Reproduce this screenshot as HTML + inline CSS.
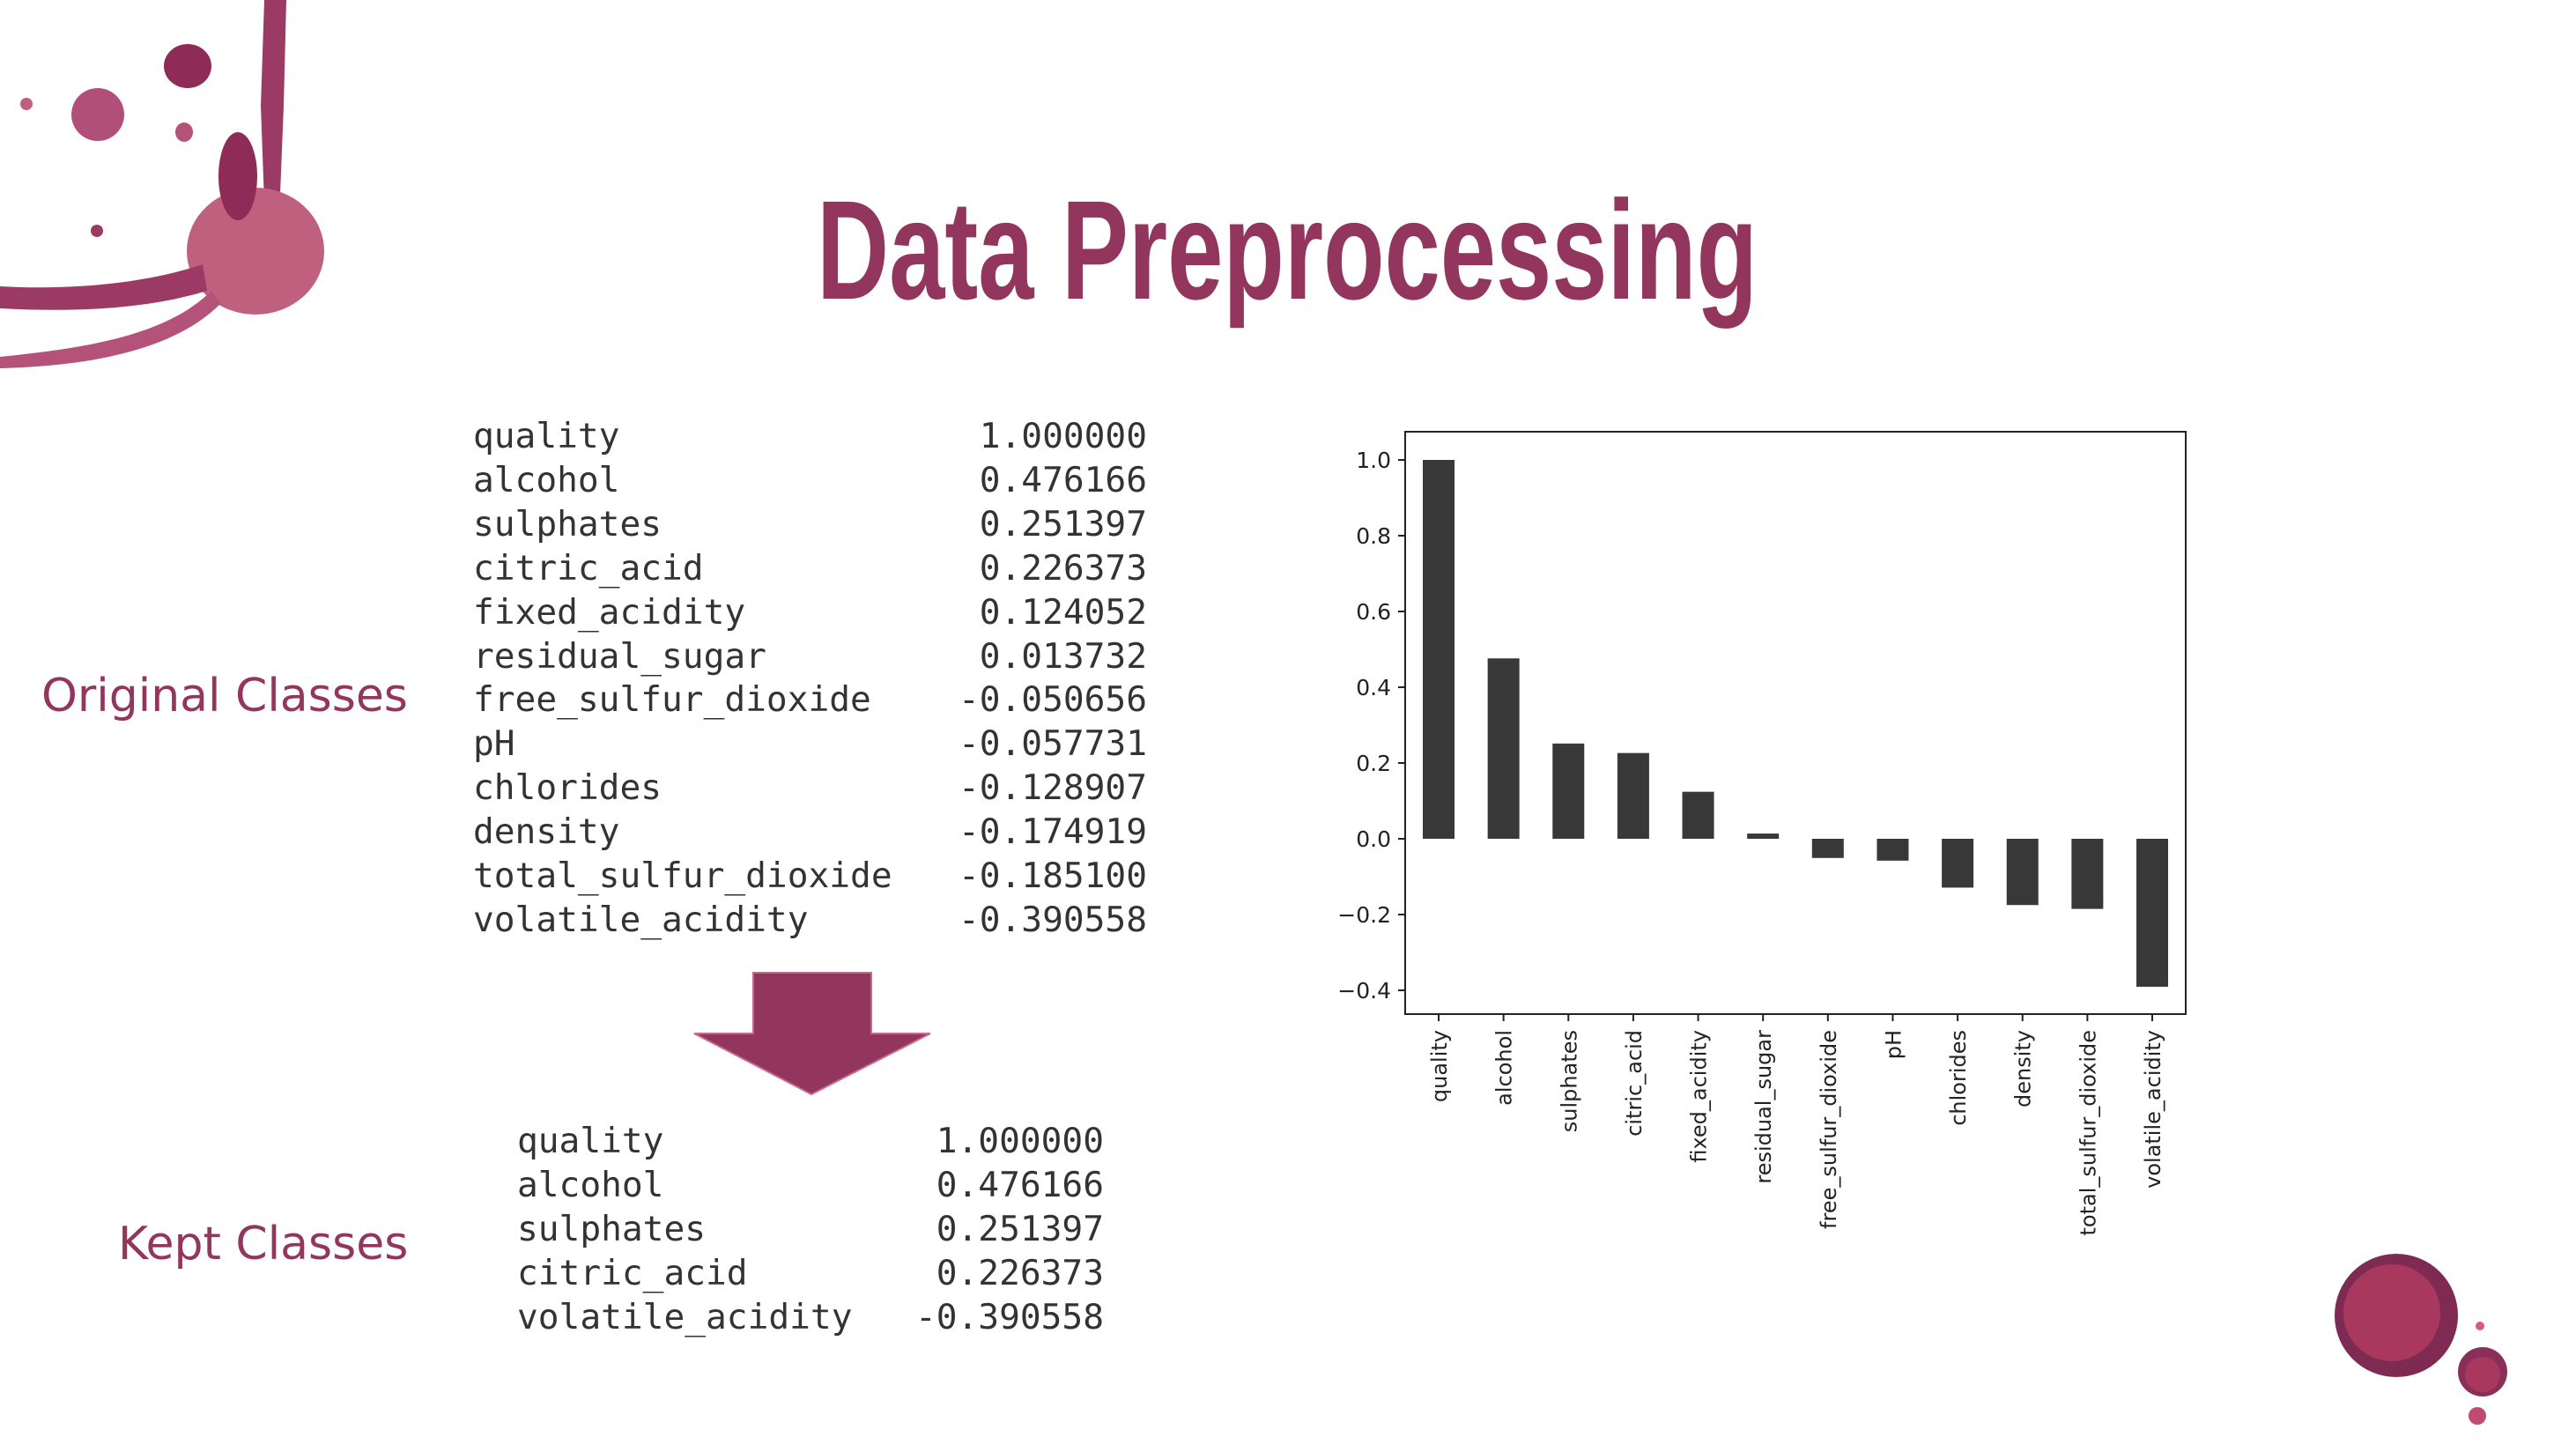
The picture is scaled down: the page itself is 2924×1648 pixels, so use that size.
<!DOCTYPE html>
<html><head><meta charset="utf-8">
<style>
html,body{margin:0;padding:0;background:#fff;}
#root{position:relative;width:2924px;height:1648px;overflow:hidden;background:#fff;font-family:"Liberation Sans",sans-serif;}
.row{position:absolute;font-family:"DejaVu Sans Mono","Liberation Mono",monospace;font-size:39.5px;color:#333;white-space:pre;height:50px;line-height:50px;}
.lbl{position:absolute;color:#93365e;font-family:"DejaVu Sans","Liberation Sans",sans-serif;font-size:52px;white-space:nowrap;}
</style></head>
<body>
<div id="root">
<svg width="2924" height="1648" style="position:absolute;left:0;top:0">
  <g fill="#a8446f">
    <path d="M300,0 L325,0 L322,120 L318,220 L300,230 L296,120 Z" fill="#9b3a64"/>
    <ellipse cx="290" cy="285" rx="78" ry="72" fill="#c0607f"/>
    <ellipse cx="270" cy="200" rx="22" ry="50" fill="#8e2c57"/>
    <path d="M230,300 C170,320 90,330 0,325 L0,350 C90,355 170,350 235,330 Z" fill="#9b3a64"/>
    <path d="M240,330 C190,380 100,395 0,405 L0,418 C110,415 200,395 250,345 Z" fill="#b5527a"/>
    <ellipse cx="213" cy="75" rx="27" ry="25" fill="#8e2c57"/>
    <ellipse cx="111" cy="130" rx="30" ry="30" fill="#b04f78"/>
    <ellipse cx="209" cy="150" rx="10" ry="11" fill="#b5527a"/>
    <ellipse cx="110" cy="262" rx="7" ry="7" fill="#9b3a64"/>
    <ellipse cx="30" cy="118" rx="7" ry="7" fill="#c0607f"/>
  </g>
  <g>
    <circle cx="2720" cy="1493" r="70" fill="#7e2a52"/>
    <circle cx="2715" cy="1490" r="55" fill="#a8385e"/>
    <circle cx="2818" cy="1557" r="28" fill="#8a2f58"/>
    <circle cx="2818" cy="1560" r="20" fill="#a8385e"/>
    <circle cx="2812" cy="1607" r="10" fill="#c04a72"/>
    <circle cx="2815" cy="1505" r="5" fill="#d55a85"/>
  </g>
  <text x="927" y="339" font-family="'Liberation Sans Narrow','Liberation Sans',sans-serif" font-weight="bold" font-size="160" fill="#93365e" textLength="1068" lengthAdjust="spacingAndGlyphs">Data Preprocessing</text>
  <polygon points="855,1104 989,1104 989,1173 1056,1173 921,1242 788,1173 855,1173" fill="#93365e" stroke="#c9688c" stroke-width="2"/>
</svg>

<div class="lbl" style="left:47px;top:760px;">Original Classes</div>
<div class="lbl" style="left:134px;top:1382px;">Kept Classes</div>

<div id="origList"></div>
<div id="keptList"></div>

<svg id="chart" width="2924" height="1648" style="position:absolute;left:0;top:0"></svg>
</div>
<script>
const categories = ["quality","alcohol","sulphates","citric_acid","fixed_acidity","residual_sugar","free_sulfur_dioxide","pH","chlorides","density","total_sulfur_dioxide","volatile_acidity"];
const values = [1.0,0.476166,0.251397,0.226373,0.124052,0.013732,-0.050656,-0.057731,-0.128907,-0.174919,-0.1851,-0.390558];
const valueLabels = ["1.000000","0.476166","0.251397","0.226373","0.124052","0.013732","-0.050656","-0.057731","-0.128907","-0.174919","-0.185100","-0.390558"];
const keptIdx = [0,1,2,3,11];
const yTicks = [1.0,0.8,0.6,0.4,0.2,0.0,-0.2,-0.4];
const yTickLabels = ["1.0","0.8","0.6","0.4","0.2","0.0","\u22120.2","\u22120.4"];

function addRow(parent,text,left,top,right,name){
  const d=document.createElement('div');
  d.className='row';
  d.textContent=text;
  d.style.top=top+'px';
  if(right){d.style.right=(2924-left)+'px';}else{d.style.left=left+'px';}
  
  
  parent.appendChild(d);
}
const orig=document.getElementById('origList');
categories.forEach((c,i)=>{
  addRow(orig,c,537,470+i*49.9,false,'feature-name');
  addRow(orig,valueLabels[i],1302,470+i*49.9,true,'correlation-value');
});
const kept=document.getElementById('keptList');
keptIdx.forEach((k,j)=>{
  addRow(kept,categories[k],587,1270+j*49.9,false,'feature-name');
  addRow(kept,valueLabels[k],1253,1270+j*49.9,true,'correlation-value');
});

const NS="http://www.w3.org/2000/svg";
const svg=document.getElementById('chart');
const L=1595,R=2481,T=490,B=1151;
const yZero=952,yOne=522;
function y(v){return yZero-(yZero-yOne)*v;}
const firstX=1633,lastX=2443;
function x(i){return firstX+(lastX-firstX)*i/(categories.length-1);}
const bw=36;
function mk(tag,attrs){const e=document.createElementNS(NS,tag);for(const k in attrs)e.setAttribute(k,attrs[k]);svg.appendChild(e);return e;}

values.forEach((v,i)=>{
  const y1=Math.min(y(v),y(0)),h=Math.abs(y(v)-y(0));
  const r=mk('rect',{x:x(i)-bw/2,y:y1,width:bw,height:Math.max(h,1),fill:'#383838'});
  
  
});
const frame=mk('rect',{x:L,y:T,width:R-L,height:B-T,fill:'none',stroke:'#222','stroke-width':2});



yTicks.forEach((t,i)=>{
  const ln=mk('line',{x1:L-8,x2:L,y1:y(t),y2:y(t),stroke:'#222','stroke-width':2});
  
  
  const tx=mk('text',{x:L-16,y:y(t)+9,'text-anchor':'end','font-family':'DejaVu Sans, Liberation Sans, sans-serif','font-size':25,fill:'#222'});
  tx.textContent=yTickLabels[i];
  
  
});
categories.forEach((c,i)=>{
  const ln=mk('line',{x1:x(i),x2:x(i),y1:B,y2:B+8,stroke:'#222','stroke-width':2});
  
  
  const tx=mk('text',{x:0,y:0,'text-anchor':'end','font-family':'DejaVu Sans, Liberation Sans, sans-serif','font-size':24,fill:'#222',transform:'translate('+(x(i)+9)+','+(B+18)+') rotate(-90)'});
  tx.textContent=c;
  
  
});
</script>
</body></html>
